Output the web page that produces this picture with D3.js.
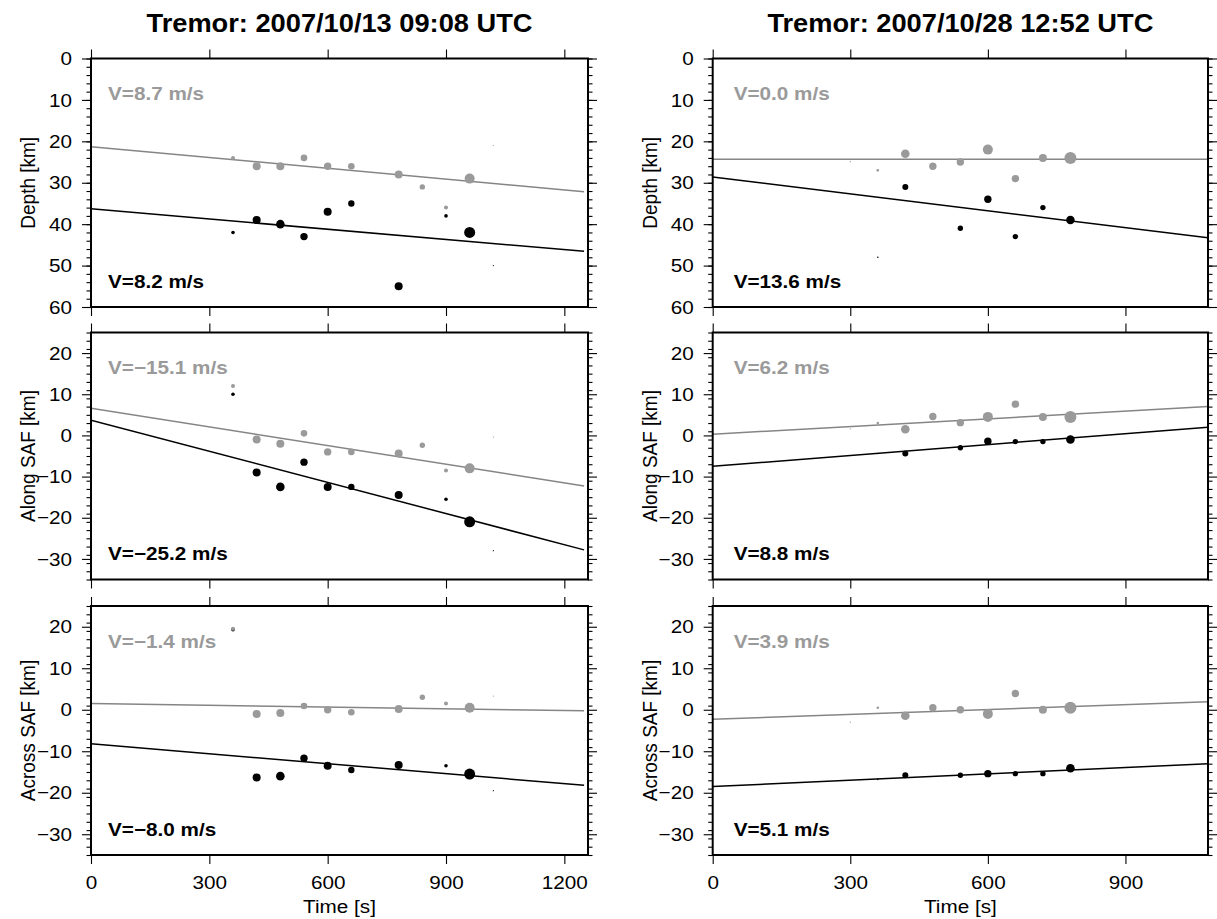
<!DOCTYPE html>
<html><head><meta charset="utf-8">
<script src="https://cdn.jsdelivr.net/npm/d3@7"></script>
<style>body{margin:0;background:#fff}svg{display:block}text{font-family:"Liberation Sans",Arial,Helvetica,sans-serif}</style>
</head><body><svg id="c" width="1217" height="919"></svg>
<script>
// ---------- data ----------
const titles = ["Tremor: 2007/10/13 09:08 UTC", "Tremor: 2007/10/28 12:52 UTC"];
const timeMax = [1260, 1080];
const lineEnd = [1250, 1080];
const xTickValues = [[0, 300, 600, 900, 1200], [0, 300, 600, 900]];
const panelLabels = ["Depth [km]", "Along SAF [km]", "Across SAF [km]"];
const yDomains = [[60, 0], [-35, 25], [-35, 25]];
const yTickValues = [[0, 10, 20, 30, 40, 50, 60], [-30, -20, -10, 0, 10, 20], [-30, -20, -10, 0, 10, 20]];

// left event
const leftGrayTime = [360, 420, 480, 540, 600, 660, 780, 840, 900, 960, 1020];
const leftGrayRadius = [2, 4, 4, 3.3, 3.7, 3.3, 4, 2.7, 2, 5, 0.6];
const leftGrayDepth = [24, 26, 26, 24, 26, 26, 28, 31, 36, 29, 21];
const leftGrayAlong = [12, -1, -2, 0.5, -4, -4, -4.4, -2.4, -8.5, -8, -0.4];
const leftGrayAcross = [19.5, -1, -0.8, 0.9, 0, -0.6, 0.2, 3, 1.5, 0.5, 3.3];
const leftBlackTime = [360, 420, 480, 540, 600, 660, 780, 900, 960, 1020];
const leftBlackRadius = [1.8, 4, 4.3, 3.7, 4, 3.2, 4, 1.8, 5.5, 0.6];
const leftBlackDepth = [42, 39, 40, 43, 37, 35, 55, 38, 42, 50];
const leftBlackAlong = [10, -9, -12.5, -6.5, -12.5, -12.5, -14.5, -15.5, -21, -28];
const leftBlackAcross = [19.3, -16.3, -16, -11.7, -13.5, -14.5, -13.3, -13.5, -15.5, -19.5];
const leftGrayIntercept = [21.3, 6.6, 1.5];
const leftGrayVelocity = [8.7, -15.1, -1.4];
const leftBlackIntercept = [36.3, 3.7, -8.2];
const leftBlackVelocity = [8.2, -25.2, -8.0];

// right event
const rightGrayTime = [300, 360, 420, 480, 540, 600, 660, 720, 780];
const rightGrayRadius = [0.6, 1.3, 4.3, 3.7, 3.7, 5, 3.7, 4, 6];
const rightGrayDepth = [24.9, 27, 23, 26, 25, 22, 29, 24, 24];
const rightGrayAlong = [1.6, 3, 1.5, 4.6, 3.1, 4.5, 7.6, 4.5, 4.5];
const rightGrayAcross = [-3, 0.5, -1.45, 0.5, 0, -1, 3.9, 0, 0.5];
const rightBlackTime = [360, 420, 540, 600, 660, 720, 780];
const rightBlackRadius = [0.8, 3, 2.7, 3.7, 2.7, 2.7, 4.3];
const rightBlackDepth = [48, 31, 41, 34, 43, 36, 39];
const rightBlackAlong = [-4.4, -4.4, -3, -1.4, -1.5, -1.5, -1];
const rightBlackAcross = [-16.8, -15.8, -15.8, -15.4, -15.4, -15.4, -14.1];
const rightGrayIntercept = [24.3, 0.3, -2.3];
const rightGrayVelocity = [0.0, 6.2, 3.9];
const rightBlackIntercept = [28.6, -7.5, -18.5];
const rightBlackVelocity = [13.6, 8.8, 5.1];

// ---------- assembled ----------
const columns = [
  {gray: {t: leftGrayTime, r: leftGrayRadius, v: [leftGrayDepth, leftGrayAlong, leftGrayAcross], a: leftGrayIntercept, V: leftGrayVelocity},
   black: {t: leftBlackTime, r: leftBlackRadius, v: [leftBlackDepth, leftBlackAlong, leftBlackAcross], a: leftBlackIntercept, V: leftBlackVelocity}},
  {gray: {t: rightGrayTime, r: rightGrayRadius, v: [rightGrayDepth, rightGrayAlong, rightGrayAcross], a: rightGrayIntercept, V: rightGrayVelocity},
   black: {t: rightBlackTime, r: rightBlackRadius, v: [rightBlackDepth, rightBlackAlong, rightBlackAcross], a: rightBlackIntercept, V: rightBlackVelocity}}
];

const colX = [[91, 588], [712.7, 1208]];
const rowY = [[58.5, 307], [332.5, 579.5], [606, 855]];
const GRAY_PT = "#9a9a9a", GRAY_LINE = "#858585";
const SX = 1.09; // horizontal stretch of glyphs

const svg = d3.select("#c");
const fmtV = v => "V=" + (v < 0 ? "\u2212" : "") + Math.abs(v).toFixed(1) + " m/s";
const fmtTick = v => (v < 0 ? "\u2212" : "") + Math.abs(v);

function stretch(sel, rot) {
  sel.each(function () {
    const t = d3.select(this);
    const x = +t.attr("x") || 0, y = +t.attr("y") || 0;
    t.attr("x", 0).attr("y", 0)
      .attr("transform", `translate(${x},${y}) scale(${SX},1)` + (rot ? ` rotate(${rot})` : ""));
  });
}

columns.forEach((col, ci) => {
  const [x0, x1] = colX[ci];
  const x = d3.scaleLinear().domain([0, timeMax[ci]]).range([x0, x1]);
  svg.append("text").attr("x", (x0 + x1) / 2).attr("y", 32).attr("text-anchor", "middle")
    .attr("font-size", 25).attr("font-weight", "bold").text(titles[ci]).call(stretch);

  rowY.forEach(([y0, y1], ri) => {
    const y = d3.scaleLinear().domain(yDomains[ri]).range([y1, y0]);
    const g = svg.append("g");
    const clipId = `clip${ci}${ri}`;
    g.append("clipPath").attr("id", clipId).append("rect").attr("x", x0).attr("y", y0).attr("width", x1 - x0).attr("height", y1 - y0);
    const plot = g.append("g").attr("clip-path", `url(#${clipId})`);

    // fit lines
    [["gray", GRAY_LINE], ["black", "#000"]].forEach(([k, c]) => {
      const s = col[k];
      const pts = [0, lineEnd[ci]].map(t => [t, s.a[ri] + s.V[ri] * t / 1000]);
      plot.append("path").attr("d", d3.line().x(d => x(d[0])).y(d => y(d[1]))(pts))
        .attr("stroke", c).attr("stroke-width", 1.5).attr("fill", "none");
    });
    // points: black then gray
    [["black", "#000"], ["gray", GRAY_PT]].forEach(([k, c]) => {
      const s = col[k];
      plot.selectAll(null).data(s.t.map((t, i) => ({t, v: s.v[ri][i], r: s.r[i]}))).join("circle")
        .attr("cx", d => x(d.t)).attr("cy", d => y(d.v)).attr("r", d => d.r).attr("fill", c);
    });

    // axes
    const yMinor = d3.range(Math.min(...yDomains[ri]), Math.max(...yDomains[ri]) + 0.001, 2);
    const left = g.append("g").attr("transform", `translate(${x0},0)`);
    left.call(d3.axisLeft(y).tickValues(yMinor).tickSize(4.5).tickFormat(""));
    left.append("g").call(d3.axisLeft(y).tickValues(yTickValues[ri]).tickSize(9).tickPadding(10).tickFormat(fmtTick));
    const right = g.append("g").attr("transform", `translate(${x1},0)`);
    right.call(d3.axisRight(y).tickValues(yMinor).tickSize(4.5).tickFormat(""));
    right.append("g").call(d3.axisRight(y).tickValues(yTickValues[ri]).tickSize(9).tickFormat(""));
    const top = g.append("g").attr("transform", `translate(0,${y0})`);
    top.call(d3.axisTop(x).tickValues(xTickValues[ci]).tickSize(9).tickFormat(""));
    const bottom = g.append("g").attr("transform", `translate(0,${y1})`);
    bottom.call(d3.axisBottom(x).tickValues(xTickValues[ci]).tickSize(9).tickPadding(11)
      .tickFormat(ri === 2 ? d3.format("d") : ""));
    g.selectAll(".domain").remove();
    g.selectAll(".tick line").attr("stroke", "#000").attr("stroke-width", 1.1);
    g.selectAll(".tick text").attr("font-size", 19).attr("fill", "#000")
      .attr("font-family", '"Liberation Sans", Arial, sans-serif').call(stretch);
    g.append("rect").attr("x", x0).attr("y", y0).attr("width", x1 - x0).attr("height", y1 - y0)
      .attr("fill", "none").attr("stroke", "#000").attr("stroke-width", 2);

    // y label
    g.append("text").attr("x", x0 - 56).attr("y", (y0 + y1) / 2)
      .attr("text-anchor", "middle").attr("font-size", 19).text(panelLabels[ri]).call(stretch, -90);

    // velocity labels
    const tx = x0 + (ci === 0 ? 17 : 21);
    g.append("text").attr("x", tx).attr("y", y0 + 41.5).attr("font-size", 19).attr("font-weight", "bold")
      .attr("fill", GRAY_PT).text(fmtV(col.gray.V[ri])).call(stretch);
    g.append("text").attr("x", tx).attr("y", y1 - 19.5).attr("font-size", 19).attr("font-weight", "bold")
      .attr("fill", "#000").text(fmtV(col.black.V[ri])).call(stretch);
  });

  svg.append("text").attr("x", (x0 + x1) / 2).attr("y", 913).attr("text-anchor", "middle")
    .attr("font-size", 19).text("Time [s]").call(stretch);
});
</script></body></html>
